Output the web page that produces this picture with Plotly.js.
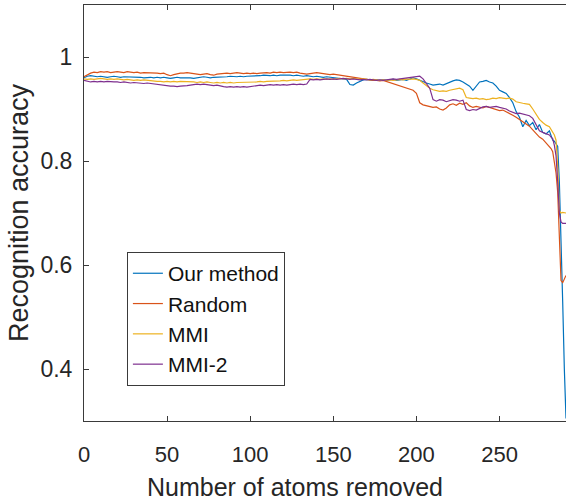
<!DOCTYPE html>
<html>
<head>
<meta charset="utf-8">
<script src="https://cdn.plot.ly/plotly-3.0.1.min.js"></script>
<style>html,body{margin:0;padding:0;background:#fff;}#chart{width:566px;height:504px;}</style>
</head>
<body>
<div id="chart"></div>
<script>
// x: number of atoms removed (0..280 step 2, then 281..290 step 1)
const atomsRemoved = [
  0,2,4,6,8,10,12,14,16,18,
  20,22,24,26,28,30,32,34,36,38,
  40,42,44,46,48,50,52,54,56,58,
  60,62,64,66,68,70,72,74,76,78,
  80,82,84,86,88,90,92,94,96,98,
  100,102,104,106,108,110,112,114,116,118,
  120,122,124,126,128,130,132,134,136,138,
  140,142,144,146,148,150,152,154,156,158,
  160,162,164,166,168,170,172,174,176,178,
  180,182,184,186,188,190,192,194,196,198,
  200,202,204,206,208,210,212,214,216,218,
  220,222,224,226,228,230,232,234,236,238,
  240,242,244,246,248,250,252,254,256,258,
  260,262,264,266,268,270,272,274,276,278,
  280,281,282,283,284,285,286,287,288,289,290
];

const ourMethod = [
  0.960,0.963,0.964,0.963,0.962,0.963,0.962,0.961,0.962,0.963,
  0.962,0.961,0.962,0.962,0.961,0.962,0.961,0.961,0.960,0.961,
  0.961,0.960,0.961,0.960,0.961,0.960,0.959,0.960,0.961,0.960,
  0.960,0.961,0.960,0.959,0.960,0.961,0.962,0.961,0.960,0.961,
  0.961,0.962,0.961,0.962,0.963,0.962,0.962,0.963,0.962,0.963,
  0.963,0.964,0.963,0.964,0.965,0.964,0.964,0.965,0.964,0.965,
  0.965,0.966,0.965,0.964,0.965,0.964,0.963,0.964,0.963,0.962,
  0.963,0.962,0.961,0.962,0.961,0.960,0.960,0.959,0.958,0.957,
  0.947,0.946,0.950,0.953,0.956,0.957,0.956,0.955,0.956,0.955,
  0.956,0.955,0.956,0.957,0.955,0.956,0.957,0.955,0.958,0.960,
  0.958,0.955,0.952,0.950,0.948,0.946,0.947,0.948,0.946,0.949,
  0.951,0.954,0.956,0.955,0.952,0.948,0.944,0.936,0.945,0.952,
  0.953,0.955,0.952,0.950,0.944,0.936,0.933,0.930,0.922,0.912,
  0.895,0.884,0.866,0.878,0.868,0.874,0.860,0.870,0.855,0.852,
  0.858,0.848,0.840,0.838,0.833,0.828,0.760,0.660,0.530,0.400,0.305
];

const randomSel = [
  0.962,0.966,0.969,0.971,0.970,0.972,0.971,0.972,0.970,0.971,
  0.972,0.971,0.970,0.972,0.971,0.970,0.971,0.969,0.970,0.970,
  0.969,0.970,0.969,0.968,0.969,0.966,0.964,0.966,0.968,0.969,
  0.969,0.970,0.969,0.968,0.967,0.966,0.967,0.968,0.966,0.965,
  0.967,0.968,0.969,0.969,0.968,0.969,0.970,0.969,0.968,0.969,
  0.968,0.969,0.968,0.969,0.970,0.970,0.969,0.971,0.970,0.971,
  0.970,0.971,0.971,0.970,0.971,0.969,0.968,0.967,0.968,0.969,
  0.970,0.969,0.968,0.967,0.966,0.967,0.966,0.965,0.964,0.962,
  0.962,0.960,0.959,0.958,0.958,0.957,0.956,0.955,0.955,0.954,
  0.955,0.953,0.950,0.948,0.946,0.944,0.942,0.940,0.938,0.936,
  0.930,0.912,0.908,0.906,0.905,0.903,0.904,0.900,0.898,0.902,
  0.908,0.910,0.907,0.911,0.909,0.912,0.906,0.903,0.905,0.904,
  0.902,0.905,0.903,0.900,0.899,0.897,0.898,0.895,0.891,0.888,
  0.884,0.880,0.876,0.872,0.867,0.860,0.852,0.846,0.842,0.835,
  0.827,0.824,0.818,0.800,0.777,0.740,0.650,0.570,0.566,0.572,0.580
];

const mmi = [
  0.958,0.957,0.958,0.957,0.958,0.959,0.958,0.957,0.958,0.957,
  0.958,0.957,0.956,0.957,0.956,0.955,0.956,0.955,0.956,0.955,
  0.955,0.954,0.953,0.953,0.952,0.953,0.952,0.953,0.952,0.953,
  0.953,0.952,0.953,0.952,0.951,0.952,0.951,0.952,0.951,0.950,
  0.951,0.950,0.951,0.950,0.951,0.950,0.951,0.951,0.952,0.951,
  0.952,0.951,0.952,0.953,0.952,0.953,0.953,0.954,0.953,0.954,
  0.955,0.954,0.955,0.956,0.955,0.956,0.956,0.957,0.958,0.957,
  0.958,0.957,0.958,0.957,0.958,0.957,0.958,0.959,0.958,0.959,
  0.958,0.959,0.958,0.957,0.958,0.957,0.956,0.957,0.956,0.955,
  0.956,0.955,0.956,0.955,0.956,0.957,0.956,0.958,0.957,0.958,
  0.957,0.955,0.950,0.945,0.940,0.937,0.936,0.934,0.935,0.934,
  0.936,0.937,0.939,0.940,0.937,0.922,0.921,0.920,0.921,0.919,
  0.920,0.918,0.919,0.921,0.920,0.922,0.921,0.920,0.921,0.919,
  0.914,0.912,0.911,0.910,0.909,0.900,0.889,0.880,0.874,0.869,
  0.866,0.860,0.853,0.850,0.840,0.790,0.705,0.700,0.701,0.700,0.700
];

const mmi2 = [
  0.955,0.953,0.952,0.953,0.952,0.953,0.952,0.953,0.952,0.952,
  0.952,0.951,0.952,0.951,0.950,0.951,0.950,0.950,0.949,0.950,
  0.949,0.948,0.947,0.946,0.946,0.945,0.944,0.944,0.943,0.944,
  0.944,0.945,0.946,0.947,0.948,0.947,0.948,0.947,0.946,0.945,
  0.946,0.944,0.943,0.942,0.943,0.942,0.943,0.942,0.943,0.942,
  0.943,0.944,0.945,0.946,0.945,0.946,0.947,0.946,0.947,0.946,
  0.947,0.946,0.947,0.948,0.947,0.948,0.947,0.948,0.957,0.956,
  0.957,0.956,0.957,0.958,0.957,0.958,0.957,0.958,0.959,0.958,
  0.957,0.958,0.957,0.956,0.957,0.956,0.957,0.956,0.955,0.956,
  0.955,0.956,0.957,0.958,0.957,0.958,0.959,0.960,0.961,0.962,
  0.962,0.963,0.958,0.950,0.940,0.918,0.915,0.918,0.917,0.914,
  0.916,0.918,0.917,0.915,0.917,0.899,0.897,0.899,0.898,0.901,
  0.904,0.905,0.903,0.904,0.905,0.903,0.901,0.900,0.896,0.893,
  0.891,0.892,0.890,0.888,0.887,0.882,0.870,0.858,0.855,0.852,
  0.850,0.846,0.843,0.830,0.810,0.760,0.700,0.683,0.680,0.680,0.680
];

const seriesNames = ['Our method', 'Random', 'MMI', 'MMI-2'];
const seriesColors = ['#0072BD', '#D95319', '#EDB120', '#7E2F8E'];
const xTicks = [0, 50, 100, 150, 200, 250];
const yTicks = [0.4, 0.6, 0.8, 1];
const yTickText = ['0.4', '0.6', '0.8', '1'];
const xTitle = 'Number of atoms removed';
const yTitle = 'Recognition accuracy';

const allSeries = [ourMethod, randomSel, mmi, mmi2];
const traces = allSeries.map((vals, i) => ({
  type: 'scatter',
  mode: 'lines',
  x: atomsRemoved,
  y: vals,
  name: seriesNames[i],
  line: {color: seriesColors[i], width: 1.2}
}));

const axisColor = '#3a3a3a';
const layout = {
  width: 566,
  height: 504,
  margin: {l: 84, r: 0, t: 5, b: 83},
  paper_bgcolor: '#ffffff',
  plot_bgcolor: '#ffffff',
  font: {family: '"Liberation Sans", Arial, sans-serif', color: '#262626'},
  showlegend: true,
  legend: {
    x: 0.089, y: 0.406, xanchor: 'left', yanchor: 'top',
    bgcolor: '#ffffff', bordercolor: axisColor, borderwidth: 1,
    font: {size: 21, color: '#111111'},
    tracegroupgap: 0
  },
  xaxis: {
    range: [0, 290],
    tickvals: xTicks,
    ticks: 'inside', ticklen: 5, tickcolor: axisColor,
    showline: true, linecolor: axisColor, linewidth: 1, mirror: 'ticks',
    showgrid: false, zeroline: false,
    tickfont: {size: 22, color: '#262626'},
    ticklabelstandoff: 14
  },
  yaxis: {
    range: [0.3, 1.1],
    tickvals: yTicks,
    ticktext: yTickText,
    ticks: 'inside', ticklen: 5, tickcolor: axisColor,
    showline: true, linecolor: axisColor, linewidth: 1, mirror: false,
    showgrid: false, zeroline: false,
    tickfont: {size: 23, color: '#262626'},
    ticklabelstandoff: 6,
    title: {text: yTitle, font: {size: 27, color: '#262626'}, standoff: 3}
  },
  annotations: [{
    text: xTitle,
    xref: 'paper', yref: 'paper',
    x: 0.438, y: -0.1587, xanchor: 'center', yanchor: 'middle',
    showarrow: false,
    font: {size: 25, color: '#262626'}
  }]
};

Plotly.newPlot('chart', traces, layout, {displayModeBar: false, staticPlot: true});
</script>
</body>
</html>
